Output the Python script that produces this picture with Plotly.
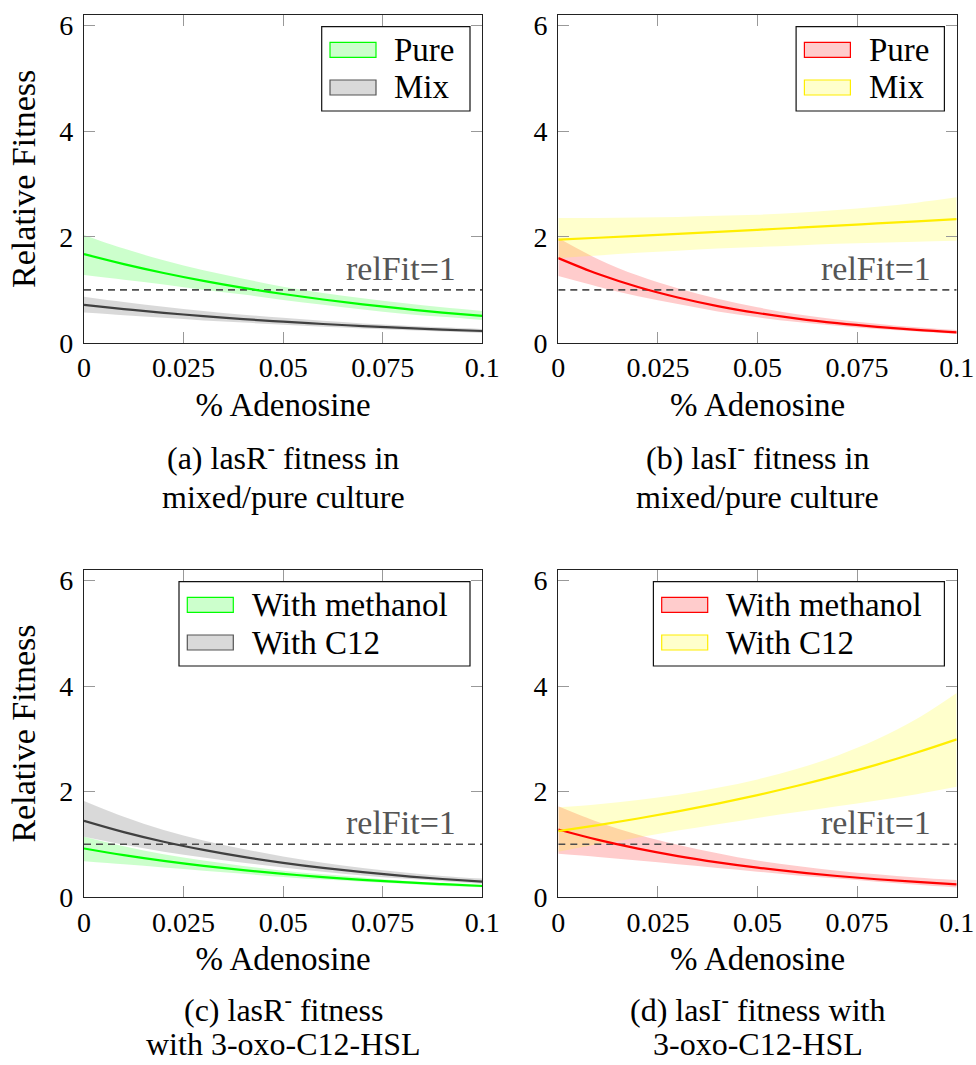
import plotly.graph_objects as go

# ---------------- data ----------------
x_pct = [0.0, 0.01, 0.02, 0.03, 0.04, 0.05, 0.06, 0.07, 0.08, 0.09, 0.1]

# (a) lasR- fitness in mixed/pure culture
a_pure_fit = [1.676, 1.487, 1.319, 1.170, 1.038, 0.921, 0.817, 0.725, 0.643, 0.570, 0.506]
a_pure_hi = [2.04, 1.78, 1.56, 1.37, 1.21, 1.06, 0.94, 0.84, 0.75, 0.67, 0.60]
a_pure_lo = [1.28, 1.19, 1.10, 1.00, 0.91, 0.81, 0.72, 0.63, 0.55, 0.49, 0.43]
a_mix_fit = [0.715, 0.636, 0.566, 0.503, 0.447, 0.398, 0.354, 0.315, 0.280, 0.249, 0.221]
a_mix_hi = [0.87, 0.77, 0.68, 0.60, 0.53, 0.47, 0.415, 0.365, 0.325, 0.29, 0.26]
a_mix_lo = [0.57, 0.52, 0.47, 0.42, 0.38, 0.34, 0.30, 0.27, 0.24, 0.21, 0.185]

# (b) lasI- fitness in mixed/pure culture
b_pure_fit = [1.600, 1.298, 1.053, 0.855, 0.693, 0.562, 0.456, 0.370, 0.300, 0.243, 0.197]
b_pure_hi = [1.98, 1.58, 1.27, 1.03, 0.83, 0.67, 0.54, 0.44, 0.36, 0.29, 0.24]
b_pure_lo = [1.26, 1.06, 0.88, 0.73, 0.59, 0.48, 0.39, 0.32, 0.26, 0.21, 0.165]
b_mix_fit = [1.950, 1.986, 2.022, 2.059, 2.097, 2.136, 2.175, 2.215, 2.256, 2.297, 2.339]
b_mix_hi = [2.36, 2.36, 2.37, 2.38, 2.40, 2.42, 2.46, 2.51, 2.57, 2.65, 2.75]
b_mix_lo = [1.60, 1.65, 1.70, 1.74, 1.78, 1.81, 1.84, 1.87, 1.89, 1.91, 1.93]

# (c) lasR- fitness with 3-oxo-C12-HSL
c_meth_fit = [0.920, 0.793, 0.684, 0.590, 0.509, 0.439, 0.378, 0.326, 0.281, 0.243, 0.209]
c_meth_hi = [1.14, 0.96, 0.81, 0.69, 0.59, 0.50, 0.43, 0.37, 0.31, 0.27, 0.235]
c_meth_lo = [0.68, 0.62, 0.56, 0.50, 0.44, 0.38, 0.33, 0.29, 0.25, 0.21, 0.185]
c_c12_fit = [1.445, 1.231, 1.048, 0.893, 0.760, 0.648, 0.552, 0.470, 0.400, 0.341, 0.290]
c_c12_hi = [1.82, 1.52, 1.27, 1.07, 0.91, 0.77, 0.65, 0.55, 0.47, 0.40, 0.35]
c_c12_lo = [1.14, 0.99, 0.86, 0.75, 0.65, 0.56, 0.48, 0.41, 0.35, 0.30, 0.25]

# (d) lasI- fitness with 3-oxo-C12-HSL
d_meth_fit = [1.280, 1.083, 0.917, 0.776, 0.657, 0.556, 0.470, 0.398, 0.337, 0.285, 0.241]
d_meth_hi = [1.72, 1.42, 1.18, 0.99, 0.83, 0.69, 0.59, 0.50, 0.43, 0.37, 0.32]
d_meth_lo = [0.82, 0.76, 0.69, 0.62, 0.55, 0.48, 0.41, 0.35, 0.29, 0.23, 0.18]
d_c12_fit = [1.250, 1.364, 1.488, 1.624, 1.771, 1.933, 2.109, 2.301, 2.510, 2.739, 2.988]
d_c12_hi = [1.70, 1.76, 1.84, 1.94, 2.07, 2.23, 2.43, 2.68, 2.99, 3.38, 3.87]
d_c12_lo = [0.86, 1.00, 1.13, 1.26, 1.38, 1.50, 1.61, 1.72, 1.83, 1.95, 2.09]

rel_fit_x = [0.0, 0.1]
rel_fit_y = [1.0, 1.0]

x_tick_vals = [0, 0.025, 0.05, 0.075, 0.1]
x_tick_text = ["0", "0.025", "0.05", "0.075", "0.1"]
y_tick_vals = [0, 2, 4, 6]
y_tick_text = ["0", "2", "4", "6"]

captions = [
    ("(a) lasR<sup>-</sup> fitness in", "mixed/pure culture"),
    ("(b) lasI<sup>-</sup> fitness in", "mixed/pure culture"),
    ("(c) lasR<sup>-</sup> fitness", "with 3-oxo-C12-HSL"),
    ("(d) lasI<sup>-</sup> fitness with", "3-oxo-C12-HSL"),
]

# ---------------- styling ----------------
W, H = 976, 1065
FONT = "Liberation Serif"
GREEN, GREEN_FILL = "#00ff00", "rgba(0,255,0,0.2)"
GREY, GREY_FILL = "#404040", "rgba(0,0,0,0.15)"
RED, RED_FILL = "#ff0000", "rgba(255,0,0,0.2)"
YEL, YEL_FILL = "#ffee00", "rgba(255,255,0,0.2)"

xdoms = [[84 / W, 482.3 / W], [558.3 / W, 956.7 / W]]
ydoms = [[1 - 342.7 / H, 1 - 15 / H], [1 - 897 / H, 1 - 570 / H]]

panels = [
    (xdoms[0], ydoms[0], [("Pure", a_pure_fit, a_pure_lo, a_pure_hi, GREEN, GREEN_FILL, GREEN, "#ccffcc"),
                          ("Mix", a_mix_fit, a_mix_lo, a_mix_hi, GREY, GREY_FILL, "#555555", "#d9d9d9")], 148.3, True),
    (xdoms[1], ydoms[0], [("Pure", b_pure_fit, b_pure_lo, b_pure_hi, RED, RED_FILL, RED, "#ffcccc"),
                          ("Mix", b_mix_fit, b_mix_lo, b_mix_hi, YEL, YEL_FILL, YEL, "#ffffcc")], 148.3, False),
    (xdoms[0], ydoms[1], [("With methanol", c_meth_fit, c_meth_lo, c_meth_hi, GREEN, GREEN_FILL, GREEN, "#ccffcc"),
                          ("With C12", c_c12_fit, c_c12_lo, c_c12_hi, GREY, GREY_FILL, "#555555", "#d9d9d9")], 291.0, True),
    (xdoms[1], ydoms[1], [("With methanol", d_meth_fit, d_meth_lo, d_meth_hi, RED, RED_FILL, RED, "#ffcccc"),
                          ("With C12", d_c12_fit, d_c12_lo, d_c12_hi, YEL, YEL_FILL, YEL, "#ffffcc")], 291.0, False),
]

fig = go.Figure()
shapes = []
annotations = []

for i, (xd, yd, series, box_w, has_ytitle) in enumerate(panels):
    n = "" if i == 0 else str(i + 1)
    xa, ya = "x" + n, "y" + n
    for name, fit, lo, hi, lc, fc, pc, pf in series:
        fig.add_trace(go.Scatter(x=x_pct, y=lo, mode="lines", line=dict(width=0, shape="spline"),
                                 showlegend=False, hoverinfo="skip", xaxis=xa, yaxis=ya))
        fig.add_trace(go.Scatter(x=x_pct, y=hi, mode="lines", line=dict(width=0, shape="spline"),
                                 fill="tonexty", fillcolor=fc, showlegend=False, hoverinfo="skip",
                                 xaxis=xa, yaxis=ya))
    fig.add_trace(go.Scatter(x=rel_fit_x, y=rel_fit_y, mode="lines",
                             line=dict(color="#4d4d4d", width=1.6, dash="7px,5px"),
                             showlegend=False, hoverinfo="skip", xaxis=xa, yaxis=ya))
    for name, fit, lo, hi, lc, fc, pc, pf in series:
        fig.add_trace(go.Scatter(x=x_pct, y=fit, mode="lines", name=name,
                                 line=dict(color=lc, width=2.2, shape="spline"),
                                 showlegend=False, xaxis=xa, yaxis=ya))

    axis_common = dict(showline=True, linecolor="#222222", linewidth=1.2, mirror="ticks",
                       ticks="inside", ticklen=11, tickcolor="#999999", tickwidth=1,
                       showgrid=False, zeroline=False, automargin=False,
                       tickfont=dict(family=FONT, size=28, color="black"))
    ydict = dict(domain=yd, range=[0, 6.2], anchor=xa, tickvals=y_tick_vals,
                 ticktext=y_tick_text, ticklabelstandoff=4, **axis_common)
    if has_ytitle:
        ydict["title"] = dict(text="Relative Fitness", font=dict(family=FONT, size=34), standoff=13)
    fig.update_layout(**{
        ("xaxis" + n): dict(domain=xd, range=[0, 0.1], anchor=ya, tickvals=x_tick_vals,
                            ticktext=x_tick_text, ticklabelstandoff=0,
                            title=dict(text="% Adenosine", font=dict(family=FONT, size=33), standoff=10),
                            **axis_common),
        ("yaxis" + n): ydict,
    })

    annotations.append(dict(x=0.094, y=1, xref=xa, yref=ya, text="relFit=1", showarrow=False,
                            xanchor="right", yanchor="bottom", yshift=1,
                            font=dict(family=FONT, size=34, color="#555555")))

    l1, l2 = (456, 497) if i < 2 else (1008, 1044)
    cx = (xd[0] + xd[1]) / 2
    for txt, cy in zip(captions[i], (l1, l2)):
        annotations.append(dict(x=cx, y=1 - cy / H, xref="paper", yref="paper",
                                text=txt, showarrow=False, xanchor="center", yanchor="middle",
                                borderpad=0, font=dict(family=FONT, size=32, color="black")))

    right_px = xd[1] * W - 12.3
    top_px = (1 - yd[1]) * H + 11.7
    left_px = right_px - box_w
    px2x = lambda p: p / W
    px2y = lambda p: 1 - p / H
    shapes.append(dict(type="rect", xref="paper", yref="paper", x0=px2x(left_px), x1=px2x(right_px),
                       y0=px2y(top_px + 84.3), y1=px2y(top_px), line=dict(color="#111111", width=1.2),
                       fillcolor="white", layer="above"))
    for k, (name, fit, lo, hi, lc, fc, pc, pf) in enumerate(series):
        ptop = top_px + (15.6 if k == 0 else 53.3)
        shapes.append(dict(type="rect", xref="paper", yref="paper", x0=px2x(left_px + 8.3),
                           x1=px2x(left_px + 54.3), y0=px2y(ptop + 15), y1=px2y(ptop),
                           line=dict(color=pc, width=1.2), fillcolor=pf, layer="above"))
        annotations.append(dict(x=px2x(left_px + 70.5), y=px2y(ptop + 7.5), xref="paper", yref="paper",
                                text=name, showarrow=False, xanchor="left", yanchor="middle",
                                font=dict(family=FONT, size=33, color="black")))

fig.update_layout(width=W, height=H, margin=dict(l=0, r=0, t=0, b=0),
                  paper_bgcolor="white", plot_bgcolor="white", showlegend=False,
                  font=dict(family=FONT, color="black"),
                  shapes=shapes, annotations=annotations)

fig.write_html("out.html", config={"displayModeBar": False},
               post_script="document.body.style.margin='0px';")
